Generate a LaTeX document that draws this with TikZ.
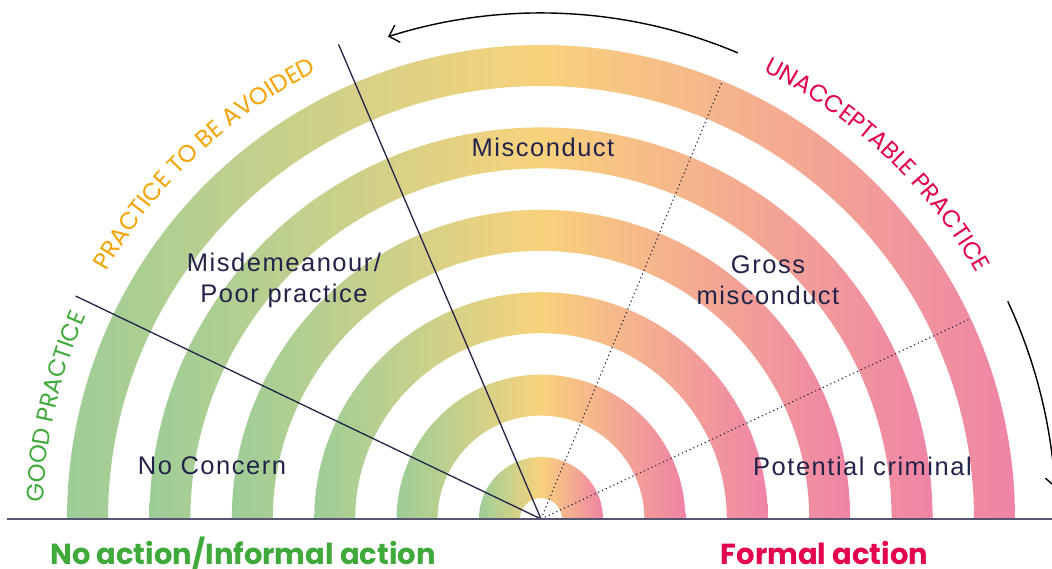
\documentclass[tikz,border=0pt]{standalone}
\usepackage{fontspec}
\setmainfont{Liberation Sans}
\newfontfamily\headfont{Poppins}
\newfontfamily\labelfont{Liberation Sans}[LetterSpace=6]
\usetikzlibrary{decorations.text}
\usetikzlibrary{arrows.meta}

\definecolor{ringgreen}{HTML}{9DCE97}
\definecolor{ringyellow}{HTML}{F9D27C}
\definecolor{ringpink}{HTML}{EF84A6}
\definecolor{goodgreen}{HTML}{3FA93A}
\definecolor{avoidorange}{HTML}{F5A300}
\definecolor{badred}{HTML}{E3004F}
\definecolor{inkblue}{HTML}{23234A}
\definecolor{axisgray}{HTML}{55556F}

\begin{document}
\begin{tikzpicture}[x=1pt,y=1pt,
  lbl/.style={font=\labelfont\fontsize{25.5}{31}\selectfont, text=inkblue, align=center, inner sep=0},
  head/.style={font=\headfont\bfseries\fontsize{29}{29}\selectfont, inner sep=0, anchor=base},
  arctext/.style={decorate, decoration={text along path, text align=center, text={#1}}},
  sweep/.style={line width=1.4, -{Straight Barb[length=9,width=18]}}
]
\useasboundingbox (-541,-49) rectangle (511,519);

% rings, each shaded green - yellow - pink
\foreach \r in {62,144.4,226.8,309.2,391.6,474} {
  \pgfmathsetmacro\ri{\r-41}
  \shade[left color=ringgreen, right color=ringpink, middle color=ringyellow]
    (\r,0) arc (0:180:\r) -- (-\ri,0) arc (180:0:\ri) -- cycle;
}

\coordinate (o) at (0,0);
\coordinate (s1) at (113.1:516);
\coordinate (s2) at (154.4:516);
\coordinate (d1) at (67.5:474);
\coordinate (d2) at (25:473);
\draw[inkblue, line width=1.3] (o) -- (s1);
\draw[inkblue, line width=1.3] (o) -- (s2);
\draw[inkblue, line width=1.1, dash pattern=on 1.2 off 3] (o) -- (d1);
\draw[inkblue, line width=1.1, dash pattern=on 1.2 off 3] (o) -- (d2);

% baseline
\coordinate (bl) at (-534,0);
\coordinate (br) at (511,0);
\draw[axisgray, line width=2] (bl) -- (br);

% arrows round the top
\coordinate (ta) at (67.1:506);
\coordinate (ra) at (25:515);
\draw[sweep] (ta) arc (67.1:107.6:506);
\draw[sweep] (ra) arc (25:3.5:515);

% texts along the rim
\path[arctext={|\headfont\fontsize{24}{24}\selectfont\color{goodgreen}|GOOD PRACTICE}]
  (187:498) arc (187:147:498);
\path[arctext={|\headfont\fontsize{24}{24}\selectfont\color{avoidorange}|PRACTICE TO BE AVOIDED}]
  (158:500) arc (158:109:500);
\path[arctext={|\headfont\fontsize{24}{24}\selectfont\color{badred}|UNACCEPTABLE PRACTICE}]
  (71:500) arc (71:22:500);

% labels
\node[lbl] (noconcern) at (-329,53) {No Concern};
\node[lbl] (misdemeanour) at (-257,239) {Misdemeanour/\\Poor practice};
\node[lbl] (misconduct) at (2,372) {Misconduct};
\node[lbl] (gross) at (227,239) {Gross\\misconduct};
\node[lbl] (criminal) at (321.5,53) {Potential criminal};

\node[head, text=goodgreen] (informal) at (-298,-45) {No action/Informal action};
\node[head, text=badred] (formal) at (283.5,-45) {Formal action};
\end{tikzpicture}
\end{document}
